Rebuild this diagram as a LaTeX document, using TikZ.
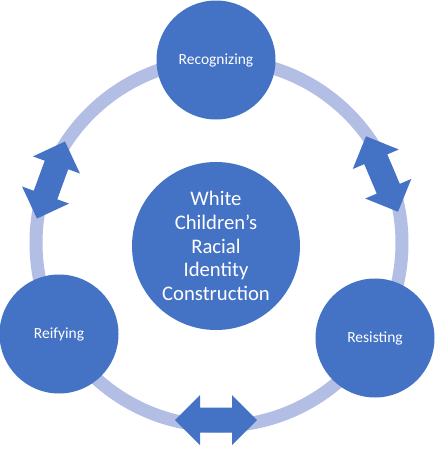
\documentclass[tikz,border=0pt]{standalone}
\usepackage{fontspec}
\setmainfont{Carlito}
\usetikzlibrary{positioning}

\definecolor{stageblue}{RGB}{68,114,196}
\definecolor{ringblue}{RGB}{178,190,228}

\begin{document}
\begin{tikzpicture}[x=1pt, y=-1pt,
  stage/.style={circle, fill=stageblue, text=white, minimum size=119pt,
                inner sep=0pt, font=\fontsize{15.5}{18}\selectfont},
  core/.style={circle, fill=stageblue, text=white, minimum size=168pt,
               inner sep=0pt, align=center,
               font=\fontsize{20.7}{23.7}\selectfont},
  ring/.style={draw=ringblue, line width=13pt},
  twoway/.style={fill=stageblue}]
  \useasboundingbox (0,0) rectangle (436,451);
  \coordinate (hub) at (219,243);
  \draw[ring] (hub) circle (183);
  % double-headed block arrows on the ring
  \foreach \px/\py/\ang in {51/180/70, 382/174/113, 216/420/0}
    \fill[twoway, shift={(\px,\py)}, rotate=\ang]
      (-41,0) -- (-16,25) -- (-16,12.5) -- (16,12.5) -- (16,25) -- (41,0)
      -- (16,-25) -- (16,-12.5) -- (-16,-12.5) -- (-16,-25) -- cycle;
  \node (recog) [stage] at (216,60)  {Recognizing};
  \node (reify) [stage] at (59,334)  {Reifying};
  \node (resist) [stage] at (375,338) {Resisting};
  \node (wcric) [core] at (216,246)
    {White\\Children’s\\Racial\\Identity\\Construction};
\end{tikzpicture}
\end{document}
